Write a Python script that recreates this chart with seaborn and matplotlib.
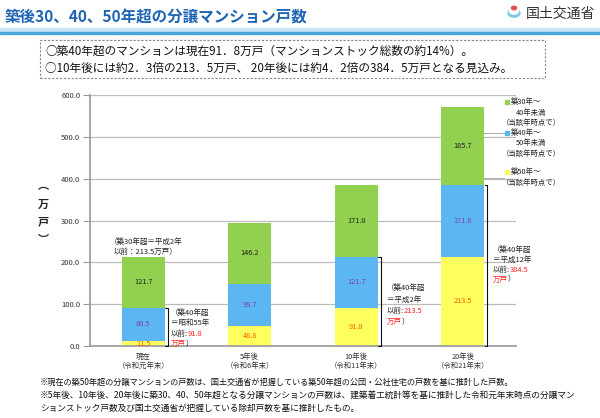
import matplotlib
matplotlib.use("Agg")
import matplotlib.pyplot as plt
import matplotlib.patches as mpatches
import matplotlib.lines as mlines
import seaborn as sns
import pandas as pd
import numpy as np

# ---------------- data ----------------
periods = ["現在\n（令和元年末）", "5年後\n（令和6年末）", "10年後\n（令和11年末）", "20年後\n（令和21年末）"]
over50 = [11.5, 48.8, 91.8, 213.5]        # 築50年～
age40_50 = [80.5, 99.7, 121.7, 171.6]     # 築40年～50年未満
age30_40 = [121.7, 146.2, 171.0, 185.7]   # 築30年～40年未満
yticks = [0, 100, 200, 300, 400, 500, 600]

bracket_bars = [0, 2, 3]
bracket_texts = [
    [[("（築40年超", "k")], [("＝昭和55年", "k")], [("以前:", "k"), ("91.8", "r")], [("万戸", "r"), ("）", "k")]],
    [[("（築40年超", "k")], [("＝平成2年", "k")], [("以前:", "k"), ("213.5", "r")], [("万戸", "r"), ("）", "k")]],
    [[("（築40年超", "k")], [("＝平成12年", "k")], [("以前:", "k"), ("384.5", "r")], [("万戸", "r"), ("）", "k")]],
]

sns.set_style("white")
plt.rcParams['font.family'] = ['Noto Sans CJK JP', 'DejaVu Sans']

GREEN = "#92D050"
BLUE = "#5CB6F2"
YELLOW = "#FFFF5E"
RED = "#FF2020"

df = pd.DataFrame({
    "period": periods,
    "c1": over50,
    "c2": np.array(over50) + np.array(age40_50),
    "c3": np.array(over50) + np.array(age40_50) + np.array(age30_40),
})

W, H = 600, 418
fig = plt.figure(figsize=(6, 4.18), dpi=100)

def fx(x):
    return x / W

def fy(y):
    return 1 - y / H

ax = fig.add_axes([fx(90), fy(346), fx(516) - fx(90), fy(95) - fy(346)])

for col, c in (("c3", GREEN), ("c2", BLUE), ("c1", YELLOW)):
    sns.barplot(data=df, x="period", y=col, color=c, width=0.4, saturation=1,
                ax=ax, edgecolor="none", linewidth=0, zorder=3)

ax.set_ylim(0, 600)
ax.set_xlim(-0.5, 3.5)
ax.set_yticks(yticks)
ax.set_yticklabels([f"{v:.1f}" for v in yticks], fontsize=5.5, color="#333333")
ax.tick_params(axis="y", length=5, width=0.8, color="#999999", pad=2, left=True)
ax.tick_params(axis="x", length=0, labelsize=5.3, pad=5, colors="#333333")
ax.set_xlabel("")
ax.set_ylabel("")
ax.yaxis.grid(True, color="#BBBBBB", linewidth=0.9, zorder=0)
ax.set_axisbelow(True)
for s in ("top", "right"):
    ax.spines[s].set_visible(False)
for s in ("left", "bottom"):
    ax.spines[s].set_color("#A0A0A0")
    ax.spines[s].set_linewidth(1.3)
    ax.spines[s].set_zorder(4)

# segment labels
for i in range(4):
    ax.text(i, over50[i] / 2, f"{over50[i]:.1f}", ha="center", va="center",
            fontsize=5.3, color="#FF5A00", zorder=5)
    ax.text(i, over50[i] + age40_50[i] / 2, f"{age40_50[i]:.1f}", ha="center", va="center",
            fontsize=5.3, color="#8040A0", zorder=5)
    ax.text(i, over50[i] + age40_50[i] + age30_40[i] / 2, f"{age30_40[i]:.1f}", ha="center",
            va="center", fontsize=5.3, color="#222222", zorder=5)

fig.canvas.draw()
renderer = fig.canvas.get_renderer()

def rich_line(x, y, segs, size, ha="left"):
    """x, y in pixel coords (top-left origin)."""
    widths = []
    for s, c in segs:
        t = fig.text(0, 0, s, fontsize=size)
        widths.append(t.get_window_extent(renderer).width)
        t.remove()
    total = sum(widths)
    cx = x - total / 2 if ha == "center" else x
    for (s, c), w in zip(segs, widths):
        col = RED if c == "r" else "#222222"
        fig.text(fx(cx), fy(y), s, fontsize=size, color=col, ha="left", va="center")
        cx += w

# brackets with annotations
text_pos = {0: (171, [313, 323.5, 334, 344]),
            2: (387, [288, 299.5, 311, 322]),
            3: (493, [250, 260, 269.5, 279.5])}
for bi, lines in zip(bracket_bars, bracket_texts):
    top = over50[bi] + age40_50[bi]
    xb = bi + 0.23
    ax.plot([xb, xb], [0, top], color="#111111", lw=0.8, zorder=5, clip_on=False)
    ax.plot([xb - 0.025, xb], [top, top], color="#111111", lw=0.8, zorder=5, clip_on=False)
    ax.plot([xb - 0.025, xb], [0, 0], color="#111111", lw=0.8, zorder=5, clip_on=False)
    x0, ys = text_pos[bi]
    for segs, yy in zip(lines, ys):
        rich_line(x0, yy, segs, 5.4)

# annotation above bar 1
fig.text(fx(146), fy(242), "（築30年超＝平成2年", fontsize=5.4, ha="center", va="center", color="#222222")
fig.text(fx(146), fy(252), "以前：213.5万戸）", fontsize=5.4, ha="center", va="center", color="#222222")

# y-axis label (vertical)
for ch, yy in zip(["︵", "万", "戸", "︶"], [186, 204, 222, 239]):
    fig.text(fx(43), fy(yy), ch, fontsize=8, ha="center", va="center", color="#222222",
             fontweight="bold")

# legend (manual)
leg = [
    (GREEN, 102, ["築30年～", "40年未満", "（当該年時点で）"]),
    (BLUE, 133, ["築40年～", "50年未満", "（当該年時点で）"]),
    (YELLOW, 172, ["築50年～", "（当該年時点で）"]),
]
for col, y0, lines in leg:
    fig.patches.append(mpatches.Rectangle((fx(505), fy(y0 + 2.3)), fx(4.5), 4.5 / H,
                                          transform=fig.transFigure, color=col, zorder=5))
    for k, s in enumerate(lines):
        if k == 0:
            fig.text(fx(511), fy(y0), s, fontsize=5.3, ha="left", va="center", color="#222222")
        else:
            fig.text(fx(531), fy(y0 + 10.5 * k), s, fontsize=5.3, ha="center", va="center",
                     color="#222222")
# leader lines from last bar to legend
for yy in (133, 178):
    fig.lines.append(mlines.Line2D([fx(483), fx(504)], [fy(yy), fy(yy)], transform=fig.transFigure,
                                   color="#AAAAAA", lw=0.7))

# ---------------- header ----------------
fig.text(fx(5), fy(17), "築後30、40、50年超の分譲マンション戸数", fontsize=11.2, fontweight="bold",
         color="#1E64B4", ha="left", va="center")
fig.patches.append(mpatches.Rectangle((0, fy(32)), 1, 4 / H, transform=fig.transFigure,
                                      color="#C4E4F4", zorder=1))
fig.patches.append(mpatches.Rectangle((0, fy(34)), 1, 2 / H, transform=fig.transFigure,
                                      color="#4AA6DA", zorder=1))
# logo
fig.patches.append(mpatches.Circle((fx(514), fy(13)), 6 / W, transform=fig.transFigure,
                                   color="#7EC8EE", zorder=2))
fig.patches.append(mpatches.Circle((fx(514), fy(11)), 4.5 / W, transform=fig.transFigure,
                                   color="white", zorder=3))
fig.patches.append(mpatches.Circle((fx(514), fy(8)), 2.5 / W, transform=fig.transFigure,
                                   color="#E05050", zorder=4))
fig.text(fx(526), fy(14), "国土交通省", fontsize=10, ha="left", va="center", color="#333333")

# dashed summary box
fig.patches.append(mpatches.Rectangle((fx(40), fy(78)), fx(545) - fx(40), 38 / H,
                                      transform=fig.transFigure, fill=False,
                                      edgecolor="#888888", linestyle=(0, (2, 1.5)), lw=0.8))
fig.text(fx(45), fy(51), "○築40年超のマンションは現在91．8万戸（マンションストック総数の約14%）。",
         fontsize=8.4, ha="left", va="center", color="#111111")
fig.text(fx(45), fy(68), "○10年後には約2．3倍の213．5万戸、 20年後には約4．2倍の384．5万戸となる見込み。",
         fontsize=8.4, ha="left", va="center", color="#111111")

# footnotes
notes = [
    "※現在の築50年超の分譲マンションの戸数は、国土交通省が把握している築50年超の公団・公社住宅の戸数を基に推計した戸数。",
    "※5年後、10年後、20年後に築30、40、50年超となる分譲マンションの戸数は、建築着工統計等を基に推計した令和元年末時点の分譲マン",
    "ションストック戸数及び国土交通省が把握している除却戸数を基に推計したもの。",
]
for s, yy, fs in zip(notes, [382, 395, 408], [5.9, 6.25, 6.25]):
    fig.text(fx(40), fy(yy), s, fontsize=fs, ha="left", va="center", color="#111111")

fig.savefig("out.png", dpi=100)
